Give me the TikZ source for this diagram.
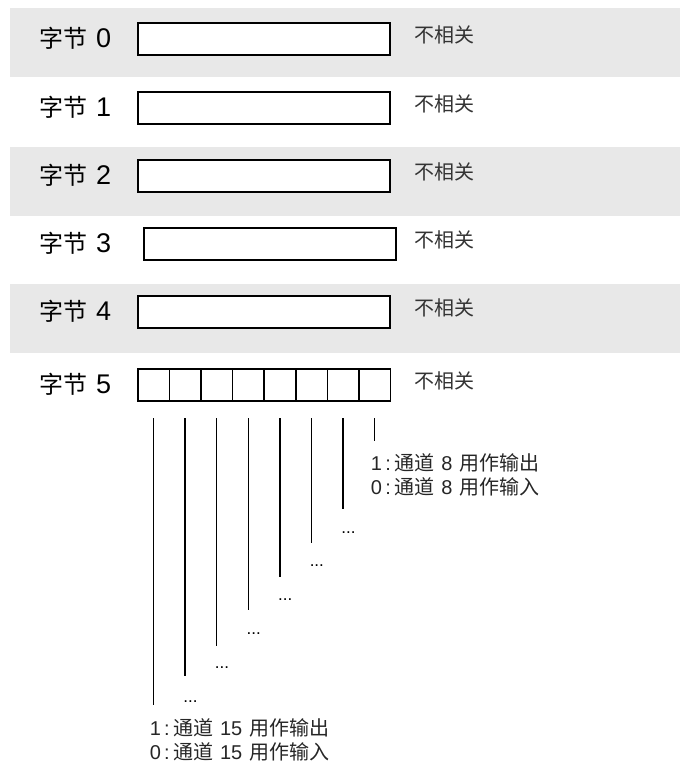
\documentclass[tikz,border=0pt]{standalone}
\usepackage{fontspec}
\setmainfont{Liberation Sans}
\newfontfamily\cjk{Noto Sans CJK SC}
\usetikzlibrary{calc,positioning}
\tikzset{
    myband/.style={fill=black!9,draw=none},
    mybox/.style={draw=black,line width=1.5pt,fill=white,inner sep=0pt,anchor=west,minimum height=32pt},
    mybit/.style={line width=1.4pt,draw=black},
    bytelabel/.style={anchor=west,inner sep=0pt,font=\fontsize{27}{27}\selectfont},
    notelabel/.style={anchor=west,inner sep=0pt,text=black!80,font=\fontsize{20}{20}\selectfont},
    chlabel/.style={anchor=north west,inner sep=0pt,align=left,text=black!85,font=\fontsize{20}{24}\selectfont},
    dotlabel/.style={anchor=base west,inner sep=0pt,font=\fontsize{17}{17}\selectfont}
}
\newcommand{\bytename}[1]{{\cjk\fontsize{24}{24}\selectfont 字节}\hspace{9pt}#1}
\newcommand{\chnote}[3]{#1\,:\,{\cjk 通道}\hspace{7pt}#2\hspace{7pt}{\cjk 用作#3}}

\begin{document}
\begin{tikzpicture}[x=1pt,y=-1pt]
  \useasboundingbox (0,0) rectangle (680,765);

  % grey bands behind bytes 0, 2, 4
  \foreach \t in {8,147,284}{
    \fill[myband] (10,\t) rectangle (680,\t+69);
  }

  % bytes 0..4
  \foreach \n/\y/\dx in {0/39/0,1/108/0,2/176/0,3/244/6,4/312/0}{
    \node[bytelabel] (lab\n) at (39,\y-1) {\bytename{\n}};
    \node[mybox,minimum width=252pt] (byte\n) at (137+\dx,\y) {};
    \node[notelabel] (na\n) at (414,\y-4) {\cjk 不相关};
  }

  % byte 5, one cell per bit
  \node[bytelabel] (lab5) at (39,384) {\bytename{5}};
  \foreach \i in {0,...,7}{
    \node[mybox,minimum width=31.6pt] (bit\i) at (137+31.6*\i,385) {};
  }
  \node[notelabel] (na5) at (414,381) {\cjk 不相关};

  % bit lines
  \foreach \i/\e in {0/705,1/676,2/646,3/610,4/577,5/543,6/509,7/441}{
    \coordinate (top\i) at ($(bit\i.center)+(0,33)$);
    \coordinate (end\i) at ($(bit\i.center)+(0,\e-385)$);
    \draw[mybit] (top\i) -- (end\i);
  }
  \foreach \i/\b in {1/702,2/668,3/634,4/600,5/566,6/533}{
    \node[dotlabel] (dots\i) at ($(bit\i.center)+(-2,\b-385)$) {...};
  }

  \node[chlabel] (ch8) at ($(end7)+(-4,12)$)
    {\chnote{1}{8}{输出}\\\chnote{0}{8}{输入}};
  \node[chlabel] (ch15) at ($(end0)+(-4,13)$)
    {\chnote{1}{15}{输出}\\\chnote{0}{15}{输入}};
\end{tikzpicture}
\end{document}
